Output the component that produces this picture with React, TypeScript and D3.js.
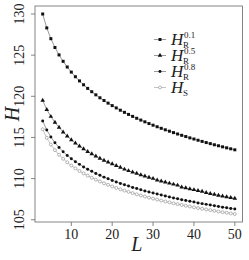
import { useRef, useEffect } from 'react';
import * as d3 from 'd3';

// L values 3..50
const lengths = [3, 4, 5, 6, 7, 8, 9, 10, 11, 12, 13, 14, 15, 16, 17, 18, 19, 20, 21, 22, 23, 24, 25, 26,
  27, 28, 29, 30, 31, 32, 33, 34, 35, 36, 37, 38, 39, 40, 41, 42, 43, 44, 45, 46, 47, 48, 49, 50];

const hR01 = [130.00, 128.31, 127.00, 125.93, 125.03, 124.25, 123.56, 122.94, 122.38, 121.87, 121.40, 120.96,
  120.56, 120.18, 119.82, 119.49, 119.17, 118.87, 118.59, 118.31, 118.05, 117.80, 117.56, 117.33,
  117.11, 116.90, 116.69, 116.49, 116.30, 116.11, 115.93, 115.76, 115.59, 115.42, 115.26, 115.11,
  114.95, 114.81, 114.66, 114.52, 114.38, 114.25, 114.11, 113.99, 113.86, 113.74, 113.62, 113.50];

const hR05 = [119.50, 118.38, 117.54, 116.82, 116.22, 115.65, 115.15, 114.71, 114.30, 113.94, 113.60, 113.28,
  112.99, 112.72, 112.46, 112.22, 111.99, 111.78, 111.57, 111.37, 111.13, 110.95, 110.78, 110.62,
  110.46, 110.30, 110.15, 110.01, 109.82, 109.69, 109.56, 109.43, 109.31, 109.19, 108.97, 108.86,
  108.75, 108.64, 108.54, 108.44, 108.29, 108.18, 108.08, 107.97, 107.87, 107.77, 107.69, 107.60];

const hR08 = [117.00, 115.91, 115.06, 114.36, 113.78, 113.27, 112.82, 112.42, 112.06, 111.73, 111.42, 111.14,
  110.88, 110.63, 110.40, 110.18, 109.98, 109.78, 109.60, 109.42, 109.25, 109.09, 108.93, 108.79,
  108.64, 108.50, 108.37, 108.24, 108.12, 108.00, 107.88, 107.76, 107.65, 107.55, 107.44, 107.34,
  107.24, 107.15, 107.05, 106.96, 106.87, 106.78, 106.70, 106.61, 106.53, 106.45, 106.37, 106.30];

const hS = [116.00, 114.95, 114.13, 113.46, 112.90, 112.41, 111.98, 111.59, 111.24, 110.92, 110.63, 110.36,
  110.11, 109.87, 109.65, 109.44, 109.24, 109.05, 108.87, 108.70, 108.54, 108.39, 108.24, 108.09,
  107.95, 107.82, 107.69, 107.57, 107.45, 107.33, 107.22, 107.11, 107.00, 106.90, 106.80, 106.70,
  106.61, 106.51, 106.42, 106.34, 106.25, 106.17, 106.08, 106.00, 105.92, 105.85, 105.77, 105.70];

const xTicks = [10, 20, 30, 40, 50];
const yTicks = [105, 110, 115, 120, 125, 130];

const series = [
  { sup: '0.1', sub: 'R', values: hR01, shape: 'square' },
  { sup: '0.5', sub: 'R', values: hR05, shape: 'triangle' },
  { sup: '0.8', sub: 'R', values: hR08, shape: 'circle' },
  { sup: '', sub: 'S', values: hS, shape: 'open' },
];

const FONT = '"Liberation Serif", "DejaVu Serif", serif';

export default function App() {
  const ref = useRef<SVGSVGElement>(null);

  useEffect(() => {
    const svg = d3.select(ref.current);
    svg.selectAll('*').remove();

    const m = { top: 6, right: 6.5, bottom: 38, left: 35 };
    const W = 249, H = 260;
    const iw = W - m.left - m.right;
    const ih = H - m.top - m.bottom;

    // 4% padding like R's default axis extent
    const xr = d3.extent(lengths) as [number, number];
    const allY = series.flatMap(s => s.values);
    const yr = d3.extent(allY) as [number, number];
    const px = (xr[1] - xr[0]) * 0.04, py = (yr[1] - yr[0]) * 0.04;
    const x = d3.scaleLinear().domain([xr[0] - px, xr[1] + px]).range([0, iw]);
    const y = d3.scaleLinear().domain([yr[0] - py, yr[1] + py]).range([ih, 0]);

    const g = svg.append('g').attr('transform', `translate(${m.left},${m.top})`);

    const sym = {
      square: d3.symbol(d3.symbolSquare, 9),
      triangle: d3.symbol(d3.symbolTriangle, 9),
      circle: d3.symbol(d3.symbolCircle, 7),
      open: d3.symbol(d3.symbolCircle, 7),
    };

    // ── Series ───────────────────────────────────────────────
    series.forEach(s => {
      const isOpen = s.shape === 'open';
      const pts = lengths.map((L, i) => [x(L), y(s.values[i])] as [number, number]);
      g.append('path').attr('d', d3.line()(pts))
        .attr('fill', 'none').attr('stroke', isOpen ? '#9a9a9a' : '#555').attr('stroke-width', 0.6);
      g.selectAll(null).data(pts).enter().append('path')
        .attr('transform', d => `translate(${d[0]},${d[1]})`)
        .attr('d', sym[s.shape as keyof typeof sym]())
        .attr('fill', isOpen ? '#fff' : '#111')
        .attr('stroke', isOpen ? '#888' : 'none').attr('stroke-width', 0.6);
    });

    // ── Frame ────────────────────────────────────────────────
    g.append('rect').attr('x', 0).attr('y', 0).attr('width', iw).attr('height', ih)
      .attr('fill', 'none').attr('stroke', '#666').attr('stroke-width', 0.8);

    // ── Axes ─────────────────────────────────────────────────
    xTicks.forEach(t => {
      g.append('line').attr('x1', x(t)).attr('x2', x(t)).attr('y1', ih).attr('y2', ih + 4)
        .attr('stroke', '#666').attr('stroke-width', 0.8);
      g.append('text').attr('x', x(t)).attr('y', ih + 17).attr('text-anchor', 'middle')
        .attr('font-family', FONT).attr('font-size', 14).attr('fill', '#222').text(t);
    });
    yTicks.forEach(t => {
      g.append('line').attr('x1', -4).attr('x2', 0).attr('y1', y(t)).attr('y2', y(t))
        .attr('stroke', '#666').attr('stroke-width', 0.8);
      g.append('text').attr('transform', `translate(-11,${y(t)}) rotate(-90)`)
        .attr('text-anchor', 'middle').attr('font-family', FONT).attr('font-size', 14)
        .attr('fill', '#222').text(t);
    });

    svg.append('text').attr('x', m.left + x(26)).attr('y', 251).attr('text-anchor', 'middle')
      .attr('font-family', FONT).attr('font-style', 'italic').attr('font-size', 20)
      .attr('fill', '#222').text('L');
    svg.append('text').attr('transform', `translate(19,${m.top + ih / 2}) rotate(-90)`)
      .attr('text-anchor', 'middle').attr('font-family', FONT).attr('font-style', 'italic')
      .attr('font-size', 20).attr('fill', '#222').text('H');

    // ── Legend ───────────────────────────────────────────────
    const lg = svg.append('g').attr('transform', 'translate(154,39.5)');
    series.forEach((s, i) => {
      const isOpen = s.shape === 'open';
      const row = lg.append('g').attr('transform', `translate(0,${i * 16})`);
      row.append('line').attr('x1', 0).attr('x2', 12).attr('y1', 0).attr('y2', 0)
        .attr('stroke', isOpen ? '#9a9a9a' : '#555').attr('stroke-width', 0.6);
      row.append('path').attr('transform', 'translate(6,0)')
        .attr('d', sym[s.shape as keyof typeof sym]())
        .attr('fill', isOpen ? '#fff' : '#111')
        .attr('stroke', isOpen ? '#888' : 'none').attr('stroke-width', 0.6);
      row.append('text').attr('x', 17).attr('y', 5)
        .attr('font-family', FONT).attr('font-style', 'italic').attr('font-size', 17)
        .attr('fill', '#222').text('H');
      row.append('text').attr('x', 29).attr('y', 8)
        .attr('font-family', FONT).attr('font-size', 9).attr('fill', '#222').text(s.sub);
      if (s.sup) {
        row.append('text').attr('x', 30).attr('y', -1.5)
          .attr('font-family', FONT).attr('font-size', 9).attr('fill', '#222').text(s.sup);
      }
    });
  }, []);

  return (
    <svg ref={ref} width={249} height={260}
      style={{ position: 'absolute', left: 0, top: 0, background: '#fff' }} />
  );
}
